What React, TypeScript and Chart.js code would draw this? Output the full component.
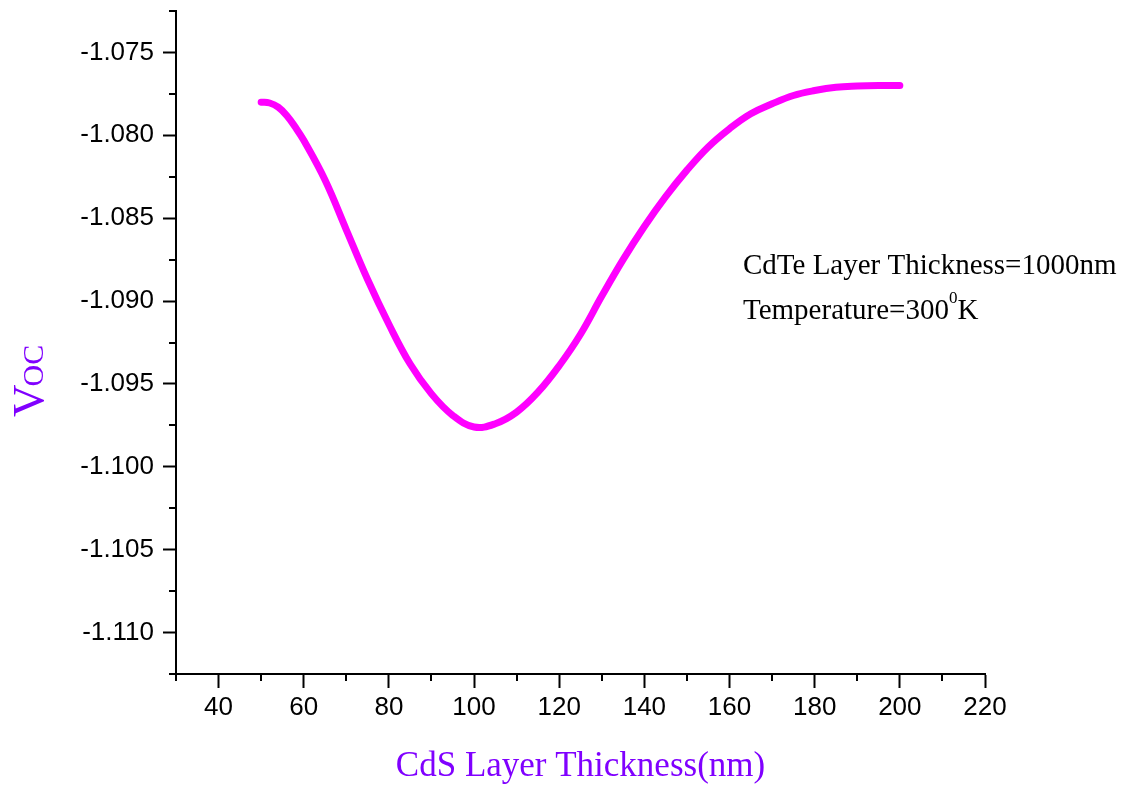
import React, { useEffect, useRef } from "react";
import { Chart, registerables } from "chart.js";

Chart.register(...registerables);

// CdS layer thickness (nm) and the corresponding open-circuit voltage (V)
const thickness = [50, 52, 54, 56, 58, 60, 65, 70, 75, 80, 85, 90, 95, 100, 105, 110, 115, 120, 125, 130, 135, 140, 145, 150, 155, 160, 165, 170, 175, 180, 185, 190, 195, 200];
const voc = [-1.078, -1.07805, -1.0783, -1.0788, -1.0795, -1.0803, -1.0827, -1.0857, -1.0887, -1.0914, -1.0938, -1.0956, -1.0969, -1.0976, -1.0974, -1.0967, -1.0955, -1.0939, -1.092, -1.0897, -1.0875, -1.0855, -1.0837, -1.0821, -1.0807, -1.0796, -1.0787, -1.0781, -1.0776, -1.0773, -1.0771, -1.07703, -1.077, -1.077];

// Axis ticks
const xMajorTicks = [40, 60, 80, 100, 120, 140, 160, 180, 200, 220];
const xMinorTicks = [30, 50, 70, 90, 110, 130, 150, 170, 190, 210];
const yMajorTicks = [-1.075, -1.08, -1.085, -1.09, -1.095, -1.1, -1.105, -1.11];
const yMinorTicks = [-1.0725, -1.0775, -1.0825, -1.0875, -1.0925, -1.0975, -1.1025, -1.1075, -1.1125];

const noteLines = ["CdTe Layer Thickness=1000nm", "Temperature=300"];

const PURPLE = "#8000FF";
const SERIF = "'Liberation Serif', 'Times New Roman', serif";
const SANS = "'Liberation Sans', Arial, sans-serif";

const decorations = {
  id: "decorations",
  afterDraw(chart: any) {
    const { ctx, chartArea, scales } = chart;
    const xs = scales.x;
    const ys = scales.y;
    ctx.save();
    // minor tick marks
    ctx.strokeStyle = "#000";
    ctx.lineWidth = 2;
    ctx.beginPath();
    for (const v of xMinorTicks) {
      const px = Math.round(xs.getPixelForValue(v));
      ctx.moveTo(px, chartArea.bottom);
      ctx.lineTo(px, chartArea.bottom + 7);
    }
    for (const v of yMinorTicks) {
      const py = Math.round(ys.getPixelForValue(v));
      ctx.moveTo(chartArea.left, py);
      ctx.lineTo(chartArea.left - 7, py);
    }
    ctx.stroke();

    // y axis title: V + small caps OC
    ctx.fillStyle = PURPLE;
    ctx.translate(43, 417);
    ctx.rotate(-Math.PI / 2);
    ctx.textBaseline = "alphabetic";
    ctx.textAlign = "left";
    ctx.font = `45px ${SERIF}`;
    ctx.fillText("V", 0, 0);
    const wV = ctx.measureText("V").width;
    ctx.font = `30px ${SERIF}`;
    ctx.fillText("OC", wV - 2, 0);
    ctx.setTransform(1, 0, 0, 1, 0, 0);

    // x axis title
    ctx.font = `35px ${SERIF}`;
    ctx.textAlign = "center";
    ctx.fillText("CdS Layer Thickness(nm)", (chartArea.left + chartArea.right) / 2, 776);

    // note text
    ctx.fillStyle = "#000";
    ctx.textAlign = "left";
    ctx.font = `29px ${SERIF}`;
    ctx.fillText(noteLines[0], 743, 274);
    ctx.fillText(noteLines[1], 743, 319);
    let w = ctx.measureText(noteLines[1]).width;
    ctx.font = `17px ${SERIF}`;
    ctx.fillText("0", 743 + w, 303);
    w += ctx.measureText("0").width;
    ctx.font = `29px ${SERIF}`;
    ctx.fillText("K", 743 + w, 319);
    ctx.restore();
  },
};

export default function App() {
  const canvasRef = useRef<HTMLCanvasElement | null>(null);

  useEffect(() => {
    if (!canvasRef.current) return;
    const chart = new Chart(canvasRef.current, {
      type: "line",
      data: {
        datasets: [
          {
            data: thickness.map((x, i) => ({ x, y: voc[i] })),
            borderColor: "#FF00FF",
            borderWidth: 7,
            borderCapStyle: "round",
            borderJoinStyle: "round",
            pointRadius: 0,
            tension: 0.4,
            fill: false,
          },
        ],
      },
      options: {
        animation: false,
        responsive: false,
        maintainAspectRatio: false,
        layout: { padding: { left: 0, right: 145, top: 11, bottom: 0 } },
        plugins: { legend: { display: false }, tooltip: { enabled: false } },
        scales: {
          x: {
            type: "linear",
            min: 30,
            max: 220,
            afterBuildTicks: (s: any) => {
              s.ticks = xMajorTicks.map((value) => ({ value }));
            },
            afterFit: (s: any) => {
              s.height = 114;
              s.paddingLeft = 0;
              s.paddingRight = 0;
            },
            grid: { drawOnChartArea: false, drawTicks: true, tickLength: 14, tickWidth: 2, tickColor: "#000" },
            border: { display: true, color: "#000", width: 2 },
            ticks: {
              color: "#000",
              font: { family: SANS, size: 26 },
              padding: 4,
              maxRotation: 0,
              autoSkip: false,
              callback: (v: any) => String(v),
            },
          },
          y: {
            type: "linear",
            min: -1.1125,
            max: -1.0725,
            afterBuildTicks: (s: any) => {
              s.ticks = yMajorTicks.map((value) => ({ value }));
            },
            afterFit: (s: any) => {
              s.width = 176;
              s.paddingTop = 0;
              s.paddingBottom = 0;
            },
            grid: { drawOnChartArea: false, drawTicks: true, tickLength: 13, tickWidth: 2, tickColor: "#000" },
            border: { display: true, color: "#000", width: 2 },
            ticks: {
              color: "#000",
              font: { family: SANS, size: 26 },
              padding: 9,
              autoSkip: false,
              callback: (v: any) => Number(v).toFixed(3),
            },
          },
        },
      },
      plugins: [decorations],
    });
    return () => chart.destroy();
  }, []);

  return (
    <div style={{ position: "absolute", left: 0, top: 0, width: 1130, height: 788, background: "#fff" }}>
      <canvas ref={canvasRef} width={1130} height={788} style={{ display: "block" }} />
    </div>
  );
}
